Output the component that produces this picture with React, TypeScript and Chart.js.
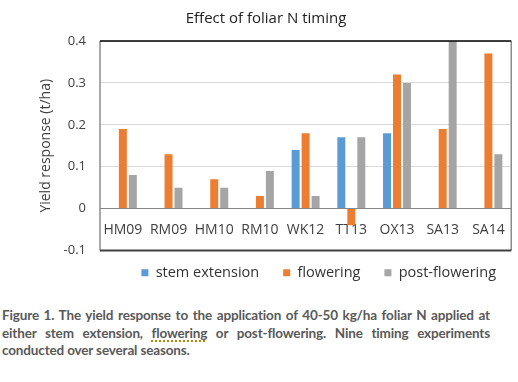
import React, { useEffect, useRef } from "react";
import { Chart, registerables } from "chart.js";

Chart.register(...registerables);

const categories = ["HM09", "RM09", "HM10", "RM10", "WK12", "TT13", "OX13", "SA13", "SA14"];
const stemExtension = [null, null, null, null, 0.14, 0.17, 0.18, null, null];
const flowering = [0.19, 0.13, 0.07, 0.03, 0.18, -0.04, 0.32, 0.19, 0.37];
const postFlowering = [0.08, 0.05, 0.05, 0.09, 0.03, 0.17, 0.3, 0.4, 0.13];
const seriesNames = ["stem extension", "flowering", "post-flowering"];
const seriesColors = ["#5B9BD5", "#ED7D31", "#A5A5A5"];
const chartTitle = "Effect of foliar N timing";
const yTitle = "Yield response (t/ha)";
const yMin = -0.1;
const yMax = 0.4;
const yStep = 0.1;

const FONT = "'Open Sans', sans-serif";

const boxPlugin = {
  id: "plotBox",
  afterLayout(chart: any) {
    const lg = chart.legend;
    if (lg) {
      lg.top -= 9;
      lg.bottom -= 9;
      lg.left += 8;
      lg.right += 8;
    }
  },
  afterDatasetsDraw(chart: any) {
    const { ctx, chartArea } = chart;
    const { left, right, top, bottom } = chartArea;
    ctx.save();
    ctx.lineWidth = 1.5;
    ctx.strokeStyle = "#8c8c8c";
    ctx.beginPath();
    ctx.moveTo(left, top);
    ctx.lineTo(left, bottom);
    ctx.moveTo(right, top);
    ctx.lineTo(right, bottom);
    ctx.stroke();
    ctx.strokeStyle = "#000000";
    ctx.beginPath();
    ctx.moveTo(left, top);
    ctx.lineTo(right, top);
    ctx.stroke();
    ctx.strokeStyle = "#404040";
    ctx.lineWidth = 2;
    ctx.beginPath();
    ctx.moveTo(left, bottom);
    ctx.lineTo(right, bottom);
    ctx.stroke();
    ctx.restore();
  },
};

function BarChart() {
  const ref = useRef<HTMLCanvasElement | null>(null);
  useEffect(() => {
    if (!ref.current) return;
    const data = [stemExtension, flowering, postFlowering];
    const chart = new Chart(ref.current, {
      type: "bar",
      data: {
        labels: categories,
        datasets: seriesNames.map((name, i) => ({
          label: name,
          data: data[i] as any,
          backgroundColor: seriesColors[i],
          borderWidth: 0,
          barPercentage: 0.8,
          categoryPercentage: 0.655,
        })),
      },
      options: {
        animation: false,
        responsive: false,
        devicePixelRatio: 1,
        layout: { padding: { left: 20, right: 6, top: 0, bottom: 0 } },
        plugins: {
          title: {
            display: true,
            text: chartTitle,
            color: "#222222",
            font: { family: FONT, size: 15, weight: "normal" },
            padding: { top: 10, bottom: 13 },
          },
          legend: {
            position: "bottom",
            align: "end",
            labels: {
              boxWidth: 7,
              boxHeight: 7,
              padding: 24,
              color: "#333333",
              font: { family: FONT, size: 14.5 },
            },
          },
          tooltip: { enabled: false },
        },
        scales: {
          x: {
            position: { y: 0 } as any,
            grid: { display: false, drawTicks: false },
            border: { display: true, color: "#868686", width: 1 },
            ticks: {
              color: "#404040",
              font: { family: FONT, size: 14 },
              padding: 13,
              maxRotation: 0,
              autoSkip: false,
            },
            afterFit: (scale: any) => {
              scale.height = 0;
            },
          },
          y: {
            min: yMin,
            max: yMax,
            grid: { color: "#D9D9D9", drawTicks: false },
            border: { display: false },
            ticks: {
              stepSize: yStep,
              color: "#404040",
              font: { family: FONT, size: 13 },
              padding: 14,
            },
            title: {
              display: true,
              text: yTitle,
              color: "#404040",
              font: { family: FONT, size: 14 },
              padding: { top: 18, bottom: 0 },
            },
            afterFit: (scale: any) => {
              scale.width = 80;
            },
          },
        },
      },
      plugins: [boxPlugin],
    });
    return () => chart.destroy();
  }, []);
  return <canvas ref={ref} width={518} height={299} style={{ display: "block" }} />;
}

const captionStyle: React.CSSProperties = {
  fontFamily: "Lato, 'Open Sans', sans-serif",
  fontWeight: 700,
  fontSize: 13.5,
  letterSpacing: "-0.15px",
  color: "#595959",
  lineHeight: "17.5px",
  width: 488,
};

export default function App() {
  return (
    <div style={{ position: "absolute", left: 0, top: 0, width: 518, height: 382, background: "#fff" }}>
      <BarChart />
      <div style={{ position: "absolute", left: 2, top: 307, ...captionStyle }}>
        <div style={{ textAlign: "justify", textAlignLast: "justify" }}>
          Figure 1. The yield response to the application of 40-50 kg/ha foliar N applied at
        </div>
        <div style={{ textAlign: "justify", textAlignLast: "justify" }}>
          either stem extension,{" "}
          <span style={{ textDecoration: "underline dotted #B8860B", textUnderlineOffset: 3, textDecorationThickness: 2 }}>flowering</span>{" "}
          or post-flowering. Nine timing experiments
        </div>
        <div>conducted over several seasons.</div>
      </div>
    </div>
  );
}
